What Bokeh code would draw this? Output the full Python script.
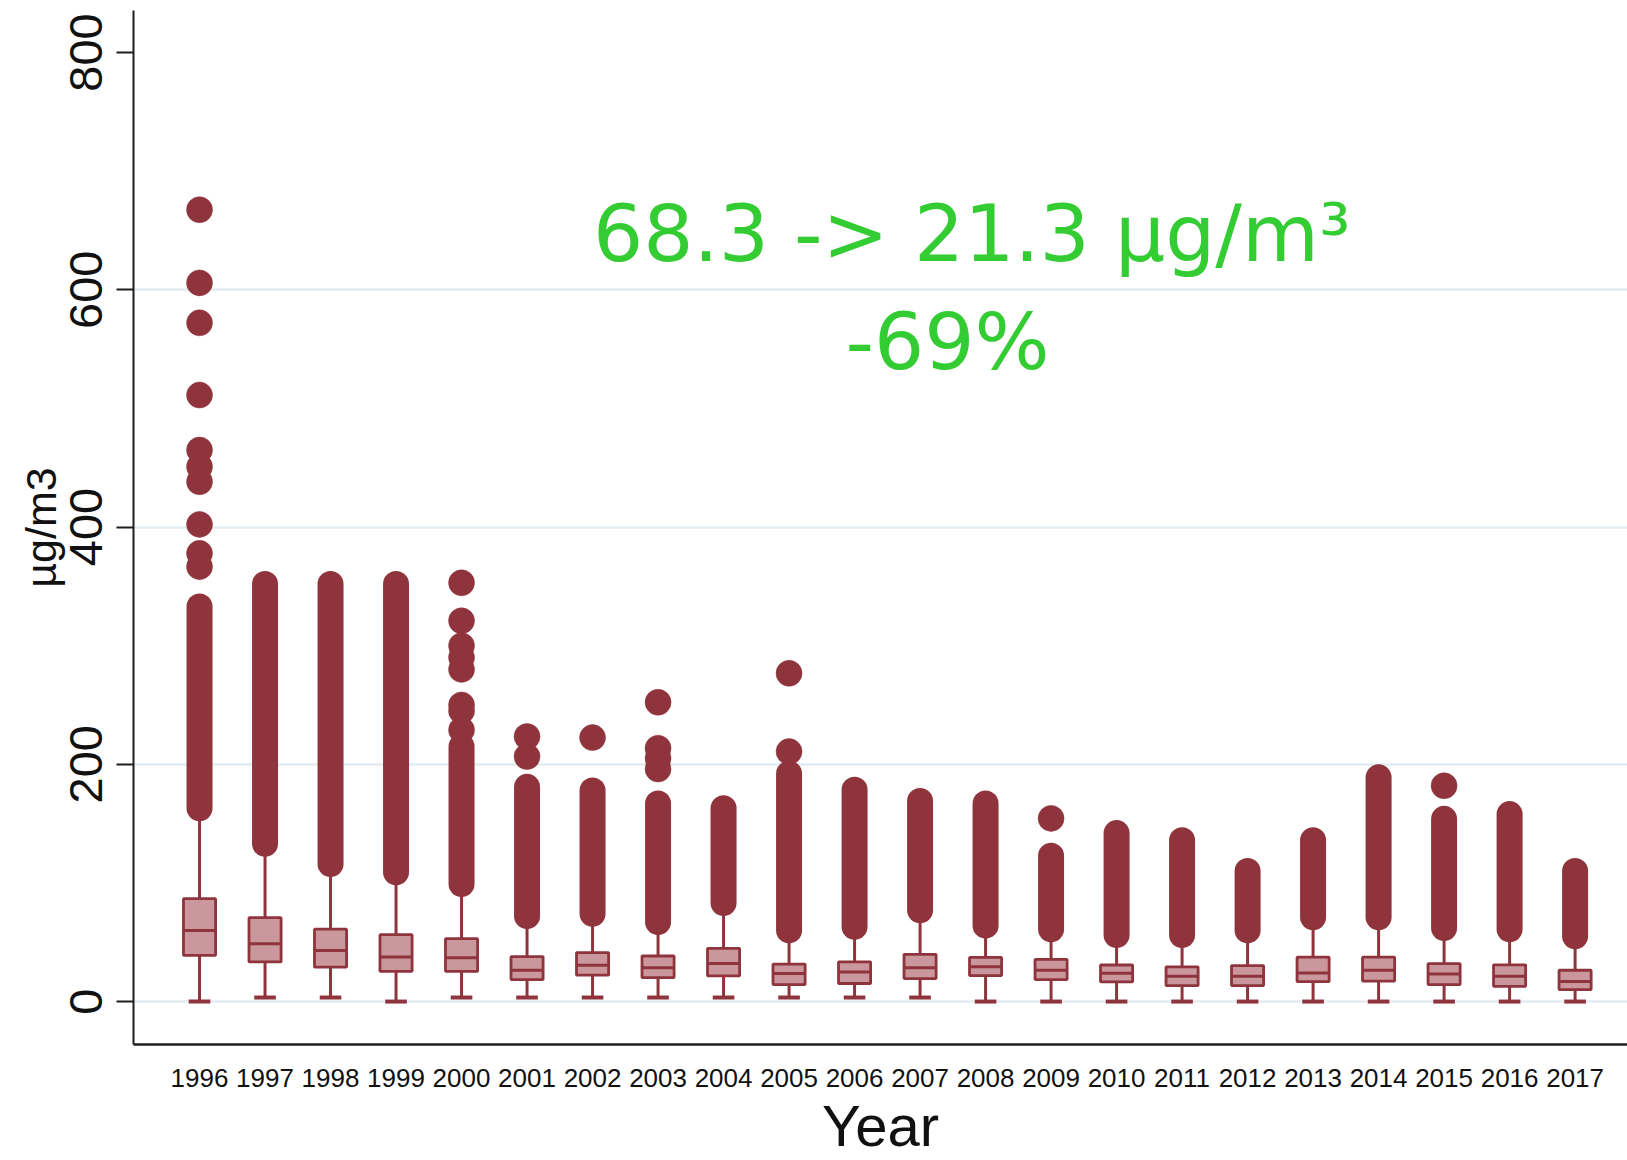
from bokeh.plotting import figure
from bokeh.models import Range1d, FixedTicker, Label, ColumnDataSource
from bokeh.embed import file_html
from bokeh.resources import INLINE

# ---------------- data ----------------
years = list(range(1996, 2018))
year_labels = [str(y) for y in years]

q1 = [39.0, 33.4, 29.0, 25.5, 25.5, 18.5, 22.2, 20.2, 21.6, 14.3, 15.2,
      19.4, 21.9, 18.5, 16.6, 13.5, 13.5, 16.8, 17.3, 14.3, 12.8, 10.1]
median = [60.0, 48.8, 43.0, 37.6, 37.0, 26.4, 30.6, 28.6, 32.0, 23.6, 25.0,
          28.6, 29.3, 26.4, 23.8, 21.3, 21.3, 24.0, 26.4, 23.2, 21.3, 17.0]
q3 = [86.7, 70.7, 61.0, 56.4, 53.0, 37.9, 41.3, 38.4, 44.9, 31.6, 33.5,
      39.8, 37.2, 35.5, 30.8, 29.2, 30.3, 37.4, 37.4, 32.0, 31.0, 26.4]
whisker_low = [0.0, 3.4, 3.4, 0.0, 3.4, 3.4, 3.4, 3.4, 3.4, 3.4, 3.4,
               3.4, 0.0, 0.0, 0.0, 0.0, 0.0, 0.0, 0.0, 0.0, 0.0, 0.0]
whisker_high = [154, 124, 107, 100, 90, 63, 65, 58, 74, 51, 54,
                67, 55, 52, 47, 47, 51, 62, 62, 53, 52, 46]
# dense runs of outliers (lowest and highest outlier of the continuous run)
outlier_run_low = [163, 133, 116, 109, 99, 72, 74, 67, 83, 60, 63,
                   77, 64, 61, 56, 56, 60, 71, 71, 62, 61, 55]
outlier_run_high = [333, 352, 352, 352, 215, 181, 178, 167, 163, 192, 178.5,
                    169, 167, 123, 142, 136, 110, 136, 189, 154, 158, 110]
# isolated outliers
outlier_year = [1996, 1996, 1996, 1996, 1996, 1996, 1996, 1996, 1996, 1996,
                2000, 2000, 2000, 2000, 2000, 2000, 2000, 2000,
                2001, 2001, 2002, 2003, 2003, 2003, 2003,
                2005, 2005, 2009, 2015]
outlier_value = [667.5, 605.8, 572.1, 511.2, 464.9, 450.8, 438.2, 402.2, 377.8, 366.6,
                 353, 321, 300, 290, 280, 250, 245, 229,
                 223.4, 206.5, 222.5, 252.3, 213.5, 205, 196,
                 276.7, 210.7, 154.4, 181.9]

y_ticks = [0, 200, 400, 600, 800]
grid_ticks = [0, 200, 400, 600]

# ---------------- style ----------------
MAROON = "#8F343C"
BOX_FILL = "#C9979C"
GREEN = "#33CC33"
BOX_W = 0.49
CAP_W = 0.33

src = ColumnDataSource(dict(
    x=years, q1=q1, med=median, q3=q3, wlo=whisker_low, whi=whisker_high,
    olo=outlier_run_low, ohi=outlier_run_high,
    left=[y - BOX_W / 2 for y in years], right=[y + BOX_W / 2 for y in years],
    cl=[y - CAP_W / 2 for y in years], cr=[y + CAP_W / 2 for y in years],
))

p = figure(width=1627, height=1160, output_backend="svg", toolbar_location=None,
           x_range=Range1d(1994.992, 2017.80), y_range=Range1d(-36.2, 835.4),
           min_border_left=133, min_border_right=0, min_border_top=10,
           min_border_bottom=115)
p.outline_line_color = None
p.background_fill_color = "white"

# outliers: dense runs as round-capped thick strokes, and isolated points
p.segment(x0="x", y0="olo", x1="x", y1="ohi", source=src, line_color=MAROON,
          line_width=26, line_cap="round")
p.scatter(x=outlier_year, y=outlier_value, size=26, fill_color=MAROON,
          line_color=MAROON, line_width=0.5)

# whiskers
p.segment(x0="x", y0="q3", x1="x", y1="whi", source=src, line_color=MAROON, line_width=3)
p.segment(x0="x", y0="q1", x1="x", y1="wlo", source=src, line_color=MAROON, line_width=3)
p.segment(x0="cl", y0="wlo", x1="cr", y1="wlo", source=src, line_color=MAROON, line_width=4)

# boxes and medians
p.quad(left="left", right="right", bottom="q1", top="q3", source=src,
       fill_color=BOX_FILL, line_color=MAROON, line_width=2.8)
p.segment(x0="left", y0="med", x1="right", y1="med", source=src,
          line_color=MAROON, line_width=3)

# annotation
p.add_layout(Label(x=2007.79, y=647, text="68.3 -> 21.3 µg/m³", text_align="center",
                   text_baseline="alphabetic", text_font="DejaVu Sans",
                   text_font_size="79px", text_color=GREEN))
p.add_layout(Label(x=2007.42, y=556, text="-69%", text_align="center",
                   text_baseline="alphabetic", text_font="DejaVu Sans",
                   text_font_size="79px", text_color=GREEN))

# grid
p.xgrid.visible = False
p.ygrid.ticker = FixedTicker(ticks=grid_ticks)
p.ygrid.grid_line_color = "#E4ECEF"
p.ygrid.grid_line_width = 2.5

# y axis
ya = p.yaxis[0]
ya.ticker = FixedTicker(ticks=y_ticks)
ya.axis_line_color = "#1E1E1E"
ya.axis_line_width = 2
ya.major_tick_line_color = "#1E1E1E"
ya.major_tick_line_width = 2
ya.major_tick_out = 17
ya.major_tick_in = 0
ya.minor_tick_line_color = None
ya.major_label_orientation = "vertical"
ya.major_label_text_font = "Liberation Sans"
ya.major_label_text_font_size = "47px"
ya.major_label_text_color = "#111111"
ya.major_label_standoff = 14
ya.axis_label = "µg/m3"
ya.axis_label_text_font = "Liberation Sans"
ya.axis_label_text_font_size = "43px"
ya.axis_label_text_font_style = "normal"
ya.axis_label_text_color = "#111111"
ya.axis_label_standoff = 3

# x axis
xa = p.xaxis[0]
xa.ticker = FixedTicker(ticks=years)
xa.major_label_overrides = {y: s for y, s in zip(years, year_labels)}
xa.axis_line_color = "#1E1E1E"
xa.axis_line_width = 2.5
xa.major_tick_line_color = None
xa.major_tick_out = 0
xa.major_tick_in = 0
xa.minor_tick_line_color = None
xa.major_label_text_font = "Liberation Sans"
xa.major_label_text_font_size = "26px"
xa.major_label_text_color = "#111111"
xa.major_label_standoff = 24
xa.axis_label = "Year"
xa.axis_label_text_font = "Liberation Sans"
xa.axis_label_text_font_size = "58px"
xa.axis_label_text_font_style = "normal"
xa.axis_label_text_color = "#111111"
xa.axis_label_standoff = 3

open("out.html", "w").write(file_html(p, INLINE))
